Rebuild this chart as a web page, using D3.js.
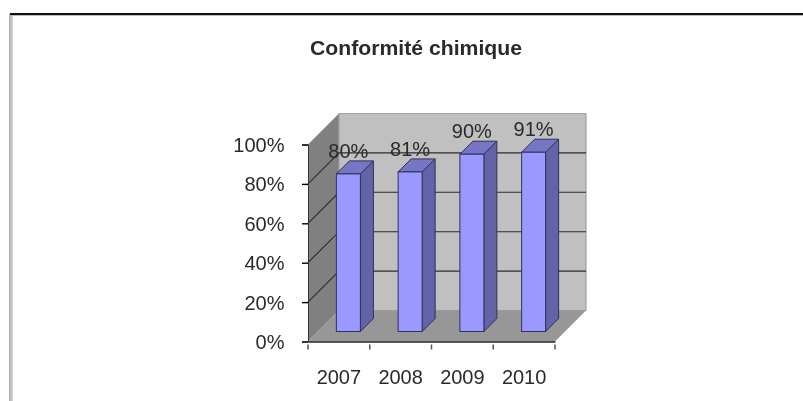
<!DOCTYPE html>
<html><head><meta charset="utf-8">
<script src="https://cdn.jsdelivr.net/npm/d3@7"></script>
<style>html,body{margin:0;padding:0;background:#fff}svg{display:block}
text{font-family:"Liberation Sans",Arial,sans-serif;fill:#2a2a2a}</style></head>
<body><svg id="c" width="803" height="401"></svg>
<script>
const title = "Conformité chimique";
const categories = ["2007","2008","2009","2010"];
const values = [0.80,0.81,0.90,0.91];
const valueLabels = ["80%","81%","90%","91%"];
const yTicks = [0,0.2,0.4,0.6,0.8,1];

const svg = d3.select("#c");
const defs = svg.append("defs");
const blur = defs.append("filter").attr("id","soft").attr("filterUnits","userSpaceOnUse").attr("x",0).attr("y",0).attr("width",803).attr("height",401);
blur.append("feGaussianBlur").attr("stdDeviation",0.7);
const g0 = defs.append("linearGradient").attr("id","edge");
g0.append("stop").attr("offset",0).attr("stop-color","#a8a8a8");
g0.append("stop").attr("offset",1).attr("stop-color","#dcdcdc");

// page frame
svg.append("rect").attr("x",9).attr("y",14).attr("width",4).attr("height",387).attr("fill","url(#edge)");
svg.append("rect").attr("x",10).attr("y",13).attr("width",793).attr("height",2).attr("fill","#111");
svg.append("rect").attr("x",10).attr("y",15).attr("width",793).attr("height",1).attr("fill","#bbb");

const g = svg.append("g").attr("filter","url(#soft)");
const x = d3.scaleBand().domain(categories).range([308,555]);
const y = d3.scaleLinear().domain([0,1]).range([341.5,144.5]);
const depth = 31, barNear = 10, barFar = 23, barW = 24;
const poly = pts => pts.map(p=>p.join(",")).join(" ");
const X0=x.range()[0], X1=x.range()[1], Y0=y(0), Y1=y(1);

// walls and floor
g.append("polygon").attr("points",poly([[X0,Y1],[X0+depth,Y1-depth],[X0+depth,Y0-depth],[X0,Y0]])).attr("fill","#808080");
g.append("polygon").attr("points",poly([[X0+depth,Y1-depth],[X1+depth,Y1-depth],[X1+depth,Y0-depth],[X0+depth,Y0-depth]])).attr("fill","#c0c0c0").attr("stroke","#a0a0a0").attr("stroke-width",1.2);
g.append("polygon").attr("points",poly([[X0,Y0],[X1,Y0],[X1+depth,Y0-depth],[X0+depth,Y0-depth]])).attr("fill","#979797");

// grid lines
yTicks.filter(v=>v>0 && v<1).forEach(v=>{
  g.append("path").attr("fill","none").attr("stroke","#2c2c2c").attr("stroke-width",1.1)
   .attr("d",d3.line()([[X0,y(v)],[X0+depth,y(v)-depth],[X1+depth,y(v)-depth]]));
});

// bars
const bars = g.selectAll(".bar").data(categories.map((c,i)=>({c,v:values[i],l:valueLabels[i]}))).join("g").attr("class","bar");
const lx = d => x(d.c)+x.bandwidth()/2 + barNear - barW/2 - 0.5;
const d1 = barFar-barNear;
bars.append("polygon").attr("fill","#6464a8").attr("stroke","#30305a").attr("stroke-width",1)
  .attr("points",d=>{const a=lx(d)+barW,t=y(d.v)-barNear,b=Y0-barNear;return poly([[a,t],[a+d1,t-d1],[a+d1,b-d1],[a,b]]);});
bars.append("polygon").attr("fill","#7676c4").attr("stroke","#30305a").attr("stroke-width",1)
  .attr("points",d=>{const a=lx(d),t=y(d.v)-barNear;return poly([[a,t],[a+barW,t],[a+barW+d1,t-d1],[a+d1,t-d1]]);});
bars.append("rect").attr("fill","#9999ff").attr("stroke","#30305a").attr("stroke-width",1)
  .attr("x",lx).attr("width",barW).attr("y",d=>y(d.v)-barNear).attr("height",d=>Y0-y(d.v));

// axes
const yAxis = g.append("g").attr("transform",`translate(${X0},0)`).call(d3.axisLeft(y).tickValues(yTicks).tickSize(6).tickPadding(0).tickFormat(()=>""));
const xAxis = g.append("g").attr("transform",`translate(0,${Y0})`).call(d3.axisBottom(x).tickValues([]).tickSizeOuter(0));
yAxis.selectAll("path").attr("stroke","#333");
xAxis.selectAll("path").attr("stroke","#222").attr("stroke-width",1.5);
yAxis.selectAll("line").attr("stroke","#000").attr("stroke-width",1.4);
const edgeTicks = categories.map(c=>x(c)).concat([X1]);
g.selectAll(".xt").data(edgeTicks).join("line").attr("class","xt").attr("x1",d=>d).attr("x2",d=>d).attr("y1",Y0+3).attr("y2",Y0+8).attr("stroke","#555").attr("stroke-width",1.5);

// text
g.selectAll(".yl").data(yTicks).join("text").attr("class","yl").attr("x",284.5).attr("y",v=>y(v)+7.5).attr("text-anchor","end").attr("font-size",20).text(d3.format(".0%"));
g.selectAll(".xl").data(categories).join("text").attr("class","xl").attr("x",c=>x(c)+x.bandwidth()/2).attr("y",384).attr("text-anchor","middle").attr("font-size",20).text(c=>c);
bars.append("text").attr("x",d=>lx(d)+barW/2).attr("y",d=>y(d.v)-barNear-16).attr("text-anchor","middle").attr("font-size",20).text(d=>d.l);
g.append("text").attr("x",310).attr("y",55).attr("font-size",20).attr("font-weight","bold").attr("textLength",212).attr("lengthAdjust","spacingAndGlyphs").text(title);
</script></body></html>
